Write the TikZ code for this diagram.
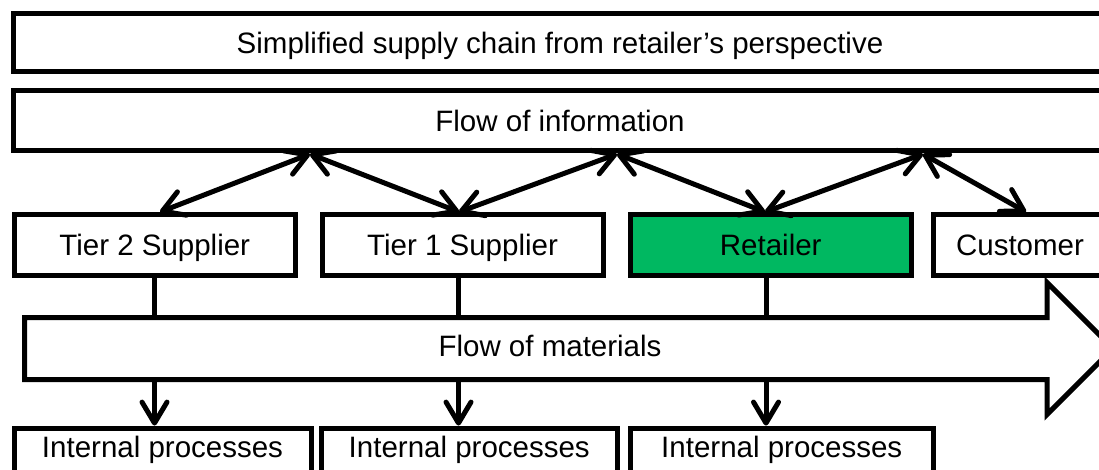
\documentclass[tikz,border=0pt]{standalone}
\usepackage{fontspec}
\setmainfont{Liberation Sans}
\usetikzlibrary{arrows.meta,calc}
\definecolor{retgreen}{RGB}{0,184,97}
\begin{document}
\begin{tikzpicture}[x=1pt,y=-1pt,
  every node/.style={font=\fontsize{29.5}{34}\selectfont},
  box/.style={draw, line width=5pt, inner sep=0pt, text height=21pt, text depth=0pt},
  conn/.style={line width=5pt},
  >={Straight Barb[length=21pt,width=25pt,round]}
]
\useasboundingbox (0,0) rectangle (1099,470);
\clip (0,0) rectangle (1099,470);

% top boxes
\node[box, minimum width=1093pt, minimum height=57.7pt] (title) at (560,42.6) {Simplified supply chain from retailer’s perspective};
\node[box, minimum width=1093pt, minimum height=60pt] (info) at (560,121) {Flow of information};

% tier boxes
\node[box, minimum width=281.5pt, minimum height=60pt] (t2) at (154.75,245) {Tier 2 Supplier};
\node[box, minimum width=281pt, minimum height=60pt] (t1) at (462.5,245) {Tier 1 Supplier};
\node[box, fill=retgreen, minimum width=281.5pt, minimum height=60pt] (ret) at (770.75,245) {Retailer};
\node[box, minimum width=173pt, minimum height=60pt] (cust) at (1020,245) {Customer};

% flow of materials arrow
\draw[conn, line join=miter, fill=white] (24.5,317.5) -- (1047,317.5) -- (1047,282.5) -- (1113,348.5) -- (1047,414.5) -- (1047,379.5) -- (24.5,379.5) -- cycle;
\node[anchor=base] (mat) at (550,356.5) {Flow of materials};

% internal process boxes (cut off at the bottom)
\node[box, anchor=north, minimum width=297pt, minimum height=70pt] (ip1) at (162.5,425.6) {};
\node[box, anchor=north, minimum width=296.5pt, minimum height=70pt] (ip2) at (469.25,425.6) {};
\node[box, anchor=north, minimum width=303.5pt, minimum height=70pt] (ip3) at (781.75,425.6) {};
\node[anchor=base] (ip1t) at (162.5,457) {Internal processes};
\node[anchor=base] (ip2t) at (469.25,457) {Internal processes};
\node[anchor=base] (ip3t) at (781.75,457) {Internal processes};

% information arrow points
\coordinate (ap1) at (310,154);
\coordinate (ap2) at (617,154);
\coordinate (ap3) at (923,154);
\coordinate (in2) at (160,212);
\coordinate (in1) at (459,212);
\coordinate (inr) at (765,212);
\coordinate (inc) at (1026,212);

\draw[conn,<->] (ap1) -- (in2);
\draw[conn,<->] (ap1) -- (in1);
\draw[conn,<->] (ap2) -- (in1);
\draw[conn,<->] (ap2) -- (inr);
\draw[conn,<->] (ap3) -- (inr);
\draw[conn,<->] (ap3) -- (inc);

% material connectors
\coordinate (m2top) at (154.5,317.5);
\coordinate (m1top) at (458.5,317.5);
\coordinate (mrtop) at (766,317.5);
\coordinate (m2bot) at (154.5,379.5);
\coordinate (m1bot) at (458.5,379.5);
\coordinate (mrbot) at (766,379.5);

\draw[conn] (t2.south -| m2top) -- (m2top);
\draw[conn] (t1.south -| m1top) -- (m1top);
\draw[conn] (ret.south -| mrtop) -- (mrtop);
\draw[conn,->] (m2bot) -- (ip1.north -| m2bot);
\draw[conn,->] (m1bot) -- (ip2.north -| m1bot);
\draw[conn,->] (mrbot) -- (ip3.north -| mrbot);
\end{tikzpicture}
\end{document}
